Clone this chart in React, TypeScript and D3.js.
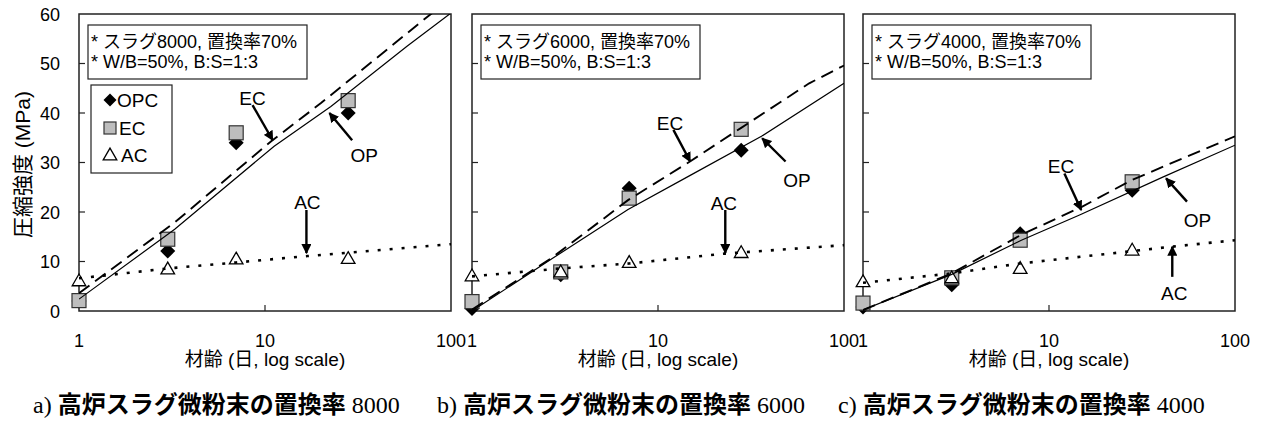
import React, { useEffect, useRef } from "react";
import * as d3 from "d3";

// ages (days) where specimens were tested
const days = [1, 3, 7, 28];
const yTicks = [0, 10, 20, 30, 40, 50, 60];
const xTicks = [1, 10, 100];

const fineness = ["8000", "6000", "4000"];
const captionPrefix = ["a)", "b)", "c)"];

// measured strength (MPa)
const opc8000 = [2.0, 12.1, 34.0, 40.0];
const ec8000 = [2.1, 14.5, 36.0, 42.5];
const ac8000 = [6.1, 8.5, 10.5, 10.6];

const opc6000 = [0.5, 7.3, 24.8, 32.5];
const ec6000 = [1.9, 7.9, 22.8, 36.7];
const ac6000 = [7.1, 7.9, 9.8, 11.8];

const opc4000 = [0.8, 5.3, 15.6, 24.4];
const ec4000 = [1.6, 6.7, 14.3, 26.1];
const ac4000 = [5.9, 6.7, 8.6, 12.3];

// predicted curves [day, MPa]
const opLine8000 = [[1, 2.4], [3.27, 16.5], [11.2, 33.3], [22.6, 41.3], [58, 53.5], [100, 60.2]];
const ecLine8000 = [[1, 3.6], [3.27, 17.9], [10.8, 34.3], [20, 42], [75, 59.5], [80, 60.3]];
const acLine8000 = [[1, 6.6], [3, 8.6], [7, 9.8], [16.9, 11.1], [100, 13.5]];

const opLine6000 = [[1, 0], [2.7, 10.6], [6.9, 20.5], [14.9, 27.4], [36, 35.3], [100, 46]];
const ecLine6000 = [[1, 0.3], [2.7, 10.8], [6.9, 22.4], [15, 30.3], [28, 37], [65, 46], [100, 49.6]];
const acLine6000 = [[1, 7.0], [3, 8.6], [7, 9.6], [23, 11.6], [100, 13.3]];

const opLine4000 = [[1, 0.2], [3, 7.4], [7.1, 14.3], [14.6, 19.4], [40.6, 27.0], [100, 33.5]];
const ecLine4000 = [[1, 0.2], [3, 7.6], [7.1, 15.4], [15.1, 21.1], [28, 26.5], [100, 35.3]];
const acLine4000 = [[1, 5.7], [3, 7.6], [7, 9.6], [46, 13.0], [100, 14.3]];

// arrow annotations: label position and arrow from/to, all in [day, MPa]
const arrows8000 = [
  { label: "EC", at: [8.57, 43.0], from: [8.57, 41.6], to: [11.0, 34.5] },
  { label: "OP", at: [34.2, 31.5], from: [29.4, 34.5], to: [22.2, 40.0] },
  { label: "AC", at: [16.9, 22.0], from: [16.7, 20.4], to: [16.7, 11.7] },
];
const arrows6000 = [
  { label: "EC", at: [11.6, 37.9], from: [12.1, 36.6], to: [14.9, 30.2] },
  { label: "OP", at: [55.8, 26.5], from: [48.5, 30.2], to: [36.3, 34.9] },
  { label: "AC", at: [22.6, 21.8], from: [23.0, 20.4], to: [23.0, 11.7] },
];
const arrows4000 = [
  { label: "EC", at: [11.6, 29.2], from: [12.1, 27.8], to: [14.9, 20.4] },
  { label: "OP", at: [62.8, 18.4], from: [55.2, 22.1], to: [42.6, 26.8] },
  { label: "AC", at: [47.1, 3.6], from: [46.0, 6.9], to: [46.0, 13.0] },
];

const panels = [
  { opc: opc8000, ec: ec8000, ac: ac8000, op: opLine8000, ecl: ecLine8000, acl: acLine8000, arrows: arrows8000 },
  { opc: opc6000, ec: ec6000, ac: ac6000, op: opLine6000, ecl: ecLine6000, acl: acLine6000, arrows: arrows6000 },
  { opc: opc4000, ec: ec4000, ac: ac4000, op: opLine4000, ecl: ecLine4000, acl: acLine4000, arrows: arrows4000 },
];

const FONT = "Arial, 'Liberation Sans', 'Noto Sans CJK JP', sans-serif";

// diamond path (square rotated 45deg), half-diagonal r
const diamondPath = (r) => `M0,${-r}L${r},0L0,${r}L${-r},0Z`;

const App = () => {
  const ref = useRef(null);

  useEffect(() => {
    const svg = d3.select(ref.current);
    svg.selectAll("*").remove();

    const lefts = [79, 472, 863];
    const pw = 372;
    const top = 14;
    const bottom = 311;

    const defs = svg.append("defs");
    defs
      .append("marker")
      .attr("id", "ah")
      .attr("viewBox", "0 0 10 10")
      .attr("refX", 9)
      .attr("refY", 5)
      .attr("markerWidth", 4.2)
      .attr("markerHeight", 4.2)
      .attr("markerUnits", "strokeWidth")
      .attr("orient", "auto")
      .append("path")
      .attr("d", "M0,0L10,5L0,10Z")
      .attr("fill", "#000");

    panels.forEach((p, i) => {
      const x = d3.scaleLog().domain([1, 100]).range([lefts[i], lefts[i] + pw]);
      const y = d3.scaleLinear().domain([0, 60]).range([bottom, top]);
      const g = svg.append("g");

      defs
        .append("clipPath")
        .attr("id", "clip" + i)
        .append("rect")
        .attr("x", lefts[i])
        .attr("y", top)
        .attr("width", pw)
        .attr("height", bottom - top);

      // frame
      g.append("rect")
        .attr("x", lefts[i])
        .attr("y", top)
        .attr("width", pw)
        .attr("height", bottom - top)
        .attr("fill", "none")
        .attr("stroke", "#222")
        .attr("stroke-width", 1.5);

      // inward ticks
      g.selectAll(".yt")
        .data(yTicks.slice(1, -1))
        .enter()
        .append("line")
        .attr("x1", lefts[i])
        .attr("x2", lefts[i] + 6)
        .attr("y1", (d) => y(d))
        .attr("y2", (d) => y(d))
        .attr("stroke", "#222")
        .attr("stroke-width", 1.2);
      g.append("line")
        .attr("x1", x(10))
        .attr("x2", x(10))
        .attr("y1", bottom)
        .attr("y2", bottom - 6)
        .attr("stroke", "#222")
        .attr("stroke-width", 1.2);

      if (i === 0) {
        g.selectAll(".yl")
          .data(yTicks)
          .enter()
          .append("text")
          .attr("x", lefts[i] - 19)
          .attr("y", (d) => y(d) + 6.5)
          .attr("text-anchor", "end")
          .attr("font-family", FONT)
          .attr("font-size", 18)
          .text((d) => d);
        g.append("text")
          .attr("transform", `translate(30,${(top + bottom) / 2 + 2}) rotate(-90)`)
          .attr("text-anchor", "middle")
          .attr("font-family", FONT)
          .attr("font-size", 21)
          .text("圧縮強度 (MPa)");
      }

      g.selectAll(".xl")
        .data(xTicks)
        .enter()
        .append("text")
        .attr("x", (d) => x(d))
        .attr("y", 347)
        .attr("text-anchor", "middle")
        .attr("font-family", FONT)
        .attr("font-size", 18)
        .text((d) => d);

      g.append("text")
        .attr("x", lefts[i] + pw / 2)
        .attr("y", 366)
        .attr("text-anchor", "middle")
        .attr("font-family", FONT)
        .attr("font-size", 19)
        .text("材齢 (日, log scale)");

      // info box
      const bx = lefts[i] + 9;
      const by = top + 11;
      g.append("rect")
        .attr("x", bx)
        .attr("y", by)
        .attr("width", 219)
        .attr("height", 54)
        .attr("fill", "#fff")
        .attr("stroke", "#222")
        .attr("stroke-width", 1.2);
      g.append("text")
        .attr("x", bx + 3)
        .attr("y", by + 23)
        .attr("font-family", FONT)
        .attr("font-size", 18)
        .text(`* スラグ${fineness[i]}, 置換率70%`);
      g.append("text")
        .attr("x", bx + 3)
        .attr("y", by + 43)
        .attr("font-family", FONT)
        .attr("font-size", 18)
        .text("* W/B=50%, B:S=1:3");

      // markers
      const tri = d3.symbol().type(d3.symbolTriangle).size(80);
      const sq = 14;

      g.selectAll(".opc")
        .data(p.opc)
        .enter()
        .append("path")
        .attr("d", diamondPath(7.5))
        .attr("transform", (d, k) => `translate(${x(days[k])},${y(d)})`)
        .attr("fill", "#000");

      g.selectAll(".ec")
        .data(p.ec)
        .enter()
        .append("rect")
        .attr("x", (d, k) => x(days[k]) - sq / 2)
        .attr("y", (d) => y(d) - sq / 2)
        .attr("width", sq)
        .attr("height", sq)
        .attr("fill", "#bdbdbd")
        .attr("stroke", "#333")
        .attr("stroke-width", 1.2);

      g.selectAll(".ac")
        .data(p.ac)
        .enter()
        .append("path")
        .attr("d", tri)
        .attr("transform", (d, k) => `translate(${x(days[k])},${y(d) + 1})`)
        .attr("fill", "#fff")
        .attr("stroke", "#000")
        .attr("stroke-width", 1.3);

      // curves
      const line = d3
        .line()
        .x((d) => x(d[0]))
        .y((d) => y(d[1]));
      const cg = g.append("g").attr("clip-path", `url(#clip${i})`);
      cg.append("path")
        .attr("d", line(p.op))
        .attr("fill", "none")
        .attr("stroke", "#000")
        .attr("stroke-width", 1.2);
      cg.append("path")
        .attr("d", line(p.ecl))
        .attr("fill", "none")
        .attr("stroke", "#000")
        .attr("stroke-width", 1.9)
        .attr("stroke-dasharray", "13,7");
      cg.append("path")
        .attr("d", line(p.acl))
        .attr("fill", "none")
        .attr("stroke", "#000")
        .attr("stroke-width", 2.6)
        .attr("stroke-dasharray", "3,9");

      // arrows
      p.arrows.forEach((a) => {
        g.append("line")
          .attr("x1", x(a.from[0]))
          .attr("y1", y(a.from[1]))
          .attr("x2", x(a.to[0]))
          .attr("y2", y(a.to[1]))
          .attr("stroke", "#000")
          .attr("stroke-width", 2.4)
          .attr("marker-end", "url(#ah)");
        g.append("text")
          .attr("x", x(a.at[0]))
          .attr("y", y(a.at[1]) + 7)
          .attr("text-anchor", "middle")
          .attr("font-family", FONT)
          .attr("font-size", 19)
          .text(a.label);
      });

      // legend in first panel only
      if (i === 0) {
        const lx = lefts[i] + 12;
        const ly = top + 71;
        g.append("rect")
          .attr("x", lx)
          .attr("y", ly)
          .attr("width", 81)
          .attr("height", 88)
          .attr("fill", "#fff")
          .attr("stroke", "#222")
          .attr("stroke-width", 1.2);
        g.append("path")
          .attr("d", diamondPath(6.5))
          .attr("transform", `translate(${lx + 19},${ly + 15})`)
          .attr("fill", "#000");
        g.append("rect")
          .attr("x", lx + 13)
          .attr("y", ly + 37)
          .attr("width", 12)
          .attr("height", 12)
          .attr("fill", "#bdbdbd")
          .attr("stroke", "#333")
          .attr("stroke-width", 1.2);
        g.append("path")
          .attr("d", tri)
          .attr("transform", `translate(${lx + 19},${ly + 71})`)
          .attr("fill", "#fff")
          .attr("stroke", "#000")
          .attr("stroke-width", 1.3);
        [["OPC", 22], ["EC", 50], ["AC", 77]].forEach(([t, dy]) => {
          g.append("text")
            .attr("x", lx + (t === "OPC" ? 26 : t === "EC" ? 28 : 30))
            .attr("y", ly + dy)
            .attr("font-family", FONT)
            .attr("font-size", 19)
            .text(t);
        });
      }

      // caption
      const cap = svg
        .append("text")
        .attr("x", [33, 437, 838][i])
        .attr("y", 413)
        .attr("font-size", 24);
      cap.append("tspan").attr("font-family", "'Liberation Serif', serif").text(captionPrefix[i] + " ");
      cap
        .append("tspan")
        .attr("font-family", "'Noto Sans CJK JP', sans-serif")
        .attr("font-weight", "bold")
        .text("高炉スラグ微粉末の置換率");
      cap.append("tspan").attr("font-family", "'Liberation Serif', serif").text(" " + fineness[i]);
    });
  }, []);

  return (
    <svg
      ref={ref}
      width={1261}
      height={423}
      style={{ position: "absolute", left: 0, top: 0, background: "#fff" }}
    />
  );
};

export default App;
